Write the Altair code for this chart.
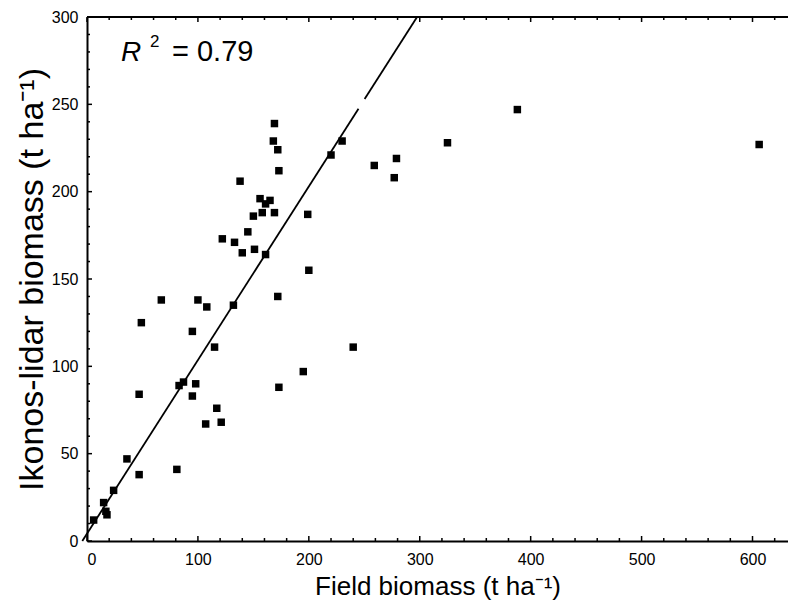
import altair as alt
import pandas as pd

# Field biomass (x) and Ikonos-lidar biomass (y), t/ha
field = [6, 15, 17, 18, 24, 36, 47, 47, 49, 67, 81, 83, 87, 95, 95, 98, 100, 107, 108,
         115, 117, 121, 122, 132, 133, 138, 140, 145, 150, 151, 156, 158, 161, 161, 165,
         168, 169, 169, 172, 172, 173, 173, 195, 199, 200, 220, 230, 240, 259, 277, 279,
         325, 388, 606]
lidar = [12, 22, 17, 15, 29, 47, 38, 84, 125, 138, 41, 89, 91, 83, 120, 90, 138, 67, 134,
         111, 76, 68, 173, 135, 171, 206, 165, 177, 186, 167, 196, 188, 193, 164, 195,
         229, 239, 188, 224, 140, 212, 88, 97, 187, 155, 221, 229, 111, 215, 208, 219,
         228, 247, 227]

# fitted line (slope / intercept) and the small break in the drawn line
slope = 0.994
intercept = 4.2
line_segments_y = [(0, 247.5), (253, 300)]

x_major = [0, 100, 200, 300, 400, 500, 600]
x_minor = [v for v in range(20, 640, 20) if v % 100 != 0]
y_major = [0, 50, 100, 150, 200, 250, 300]
y_minor = [v for v in range(10, 300, 10) if v % 50 != 0]

FONT = "Liberation Sans"
W, H = 701, 524
XMAX = 632

xscale = alt.Scale(domain=[0, XMAX], nice=False, zero=False)
yscale = alt.Scale(domain=[0, 300], nice=False, zero=False)

xaxis = alt.Axis(values=x_major, ticks=False, domain=True, domainColor="black",
                 domainWidth=2, grid=False,
                 labelFontSize=16, labelFont=FONT, labelColor="black",
                 labelPadding=10, title="Field biomass (t ha\u207b\u00b9)",
                 titleFont=FONT, titleFontSize=26, titleFontWeight="normal",
                 titleColor="black", titlePadding=6)
yaxis = alt.Axis(values=y_major, ticks=False, domain=True, domainColor="black",
                 domainWidth=2, grid=False,
                 labelFontSize=16, labelFont=FONT, labelColor="black",
                 labelPadding=9, title="Ikonos-lidar biomass (t ha\u207b\u00b9)",
                 titleFont=FONT, titleFontSize=34, titleFontWeight="normal",
                 titleColor="black", titlePadding=2)

pts = pd.DataFrame({"x": field, "y": lidar})

fit_rows = []
for i, (y0, y1) in enumerate(line_segments_y):
    for yy in (y0, y1):
        fit_rows.append({"seg": i, "x": (yy - intercept) / slope, "y": yy})
fit = pd.DataFrame(fit_rows)

points = alt.Chart(pts).mark_square(size=56, color="black", opacity=1).encode(
    x=alt.X("x:Q", scale=xscale, axis=xaxis),
    y=alt.Y("y:Q", scale=yscale, axis=yaxis),
)

line = alt.Chart(fit).mark_line(color="black", strokeWidth=1.8).encode(
    x=alt.X("x:Q", scale=xscale, axis=xaxis),
    y=alt.Y("y:Q", scale=yscale, axis=yaxis),
    detail="seg:N",
)

# top frame line
top = alt.Chart(pd.DataFrame({"k": [0]})).mark_rule(color="black", strokeWidth=2).encode(
    x=alt.value(0), x2=alt.value(W), y=alt.value(0))

def xticks(vals, length):
    d = pd.DataFrame({"x": vals})
    b = alt.Chart(d).mark_rule(color="black", strokeWidth=1.5).encode(
        x=alt.X("x:Q", scale=xscale, axis=xaxis), y=alt.value(H), y2=alt.value(H - length))
    t = alt.Chart(d).mark_rule(color="black", strokeWidth=1.5).encode(
        x=alt.X("x:Q", scale=xscale, axis=xaxis), y=alt.value(0), y2=alt.value(length))
    return [b, t]

def yticks(vals, length):
    d = pd.DataFrame({"y": vals})
    return [alt.Chart(d).mark_rule(color="black", strokeWidth=1.5).encode(
        y=alt.Y("y:Q", scale=yscale, axis=yaxis), x=alt.value(0), x2=alt.value(length))]

r_txt = alt.Chart(pd.DataFrame({"t": ["R"]})).mark_text(
    font=FONT, fontSize=28, fontStyle="italic", align="left", baseline="alphabetic",
    color="black").encode(text="t:N", x=alt.value(34), y=alt.value(44))
sup_txt = alt.Chart(pd.DataFrame({"t": ["2"]})).mark_text(
    font=FONT, fontSize=17, align="left", baseline="alphabetic",
    color="black").encode(text="t:N", x=alt.value(63), y=alt.value(30))
val_txt = alt.Chart(pd.DataFrame({"t": ["= 0.79"]})).mark_text(
    font=FONT, fontSize=29, align="left", baseline="alphabetic",
    color="black").encode(text="t:N", x=alt.value(85), y=alt.value(44))

layers = [points, line, top] + xticks(x_major, 5) + xticks(x_minor, 3) + \
    yticks(y_major, 5) + yticks(y_minor, 3) + [r_txt, sup_txt, val_txt]

chart = alt.layer(*layers).properties(
    width=W, height=H,
    autosize=alt.AutoSizeParams(type="none"),
    padding={"left": 79, "top": 9, "right": 0, "bottom": 59},
    background="white",
).configure_view(stroke=None)

chart.save("out.html", embed_options={"renderer": "svg", "actions": False})
